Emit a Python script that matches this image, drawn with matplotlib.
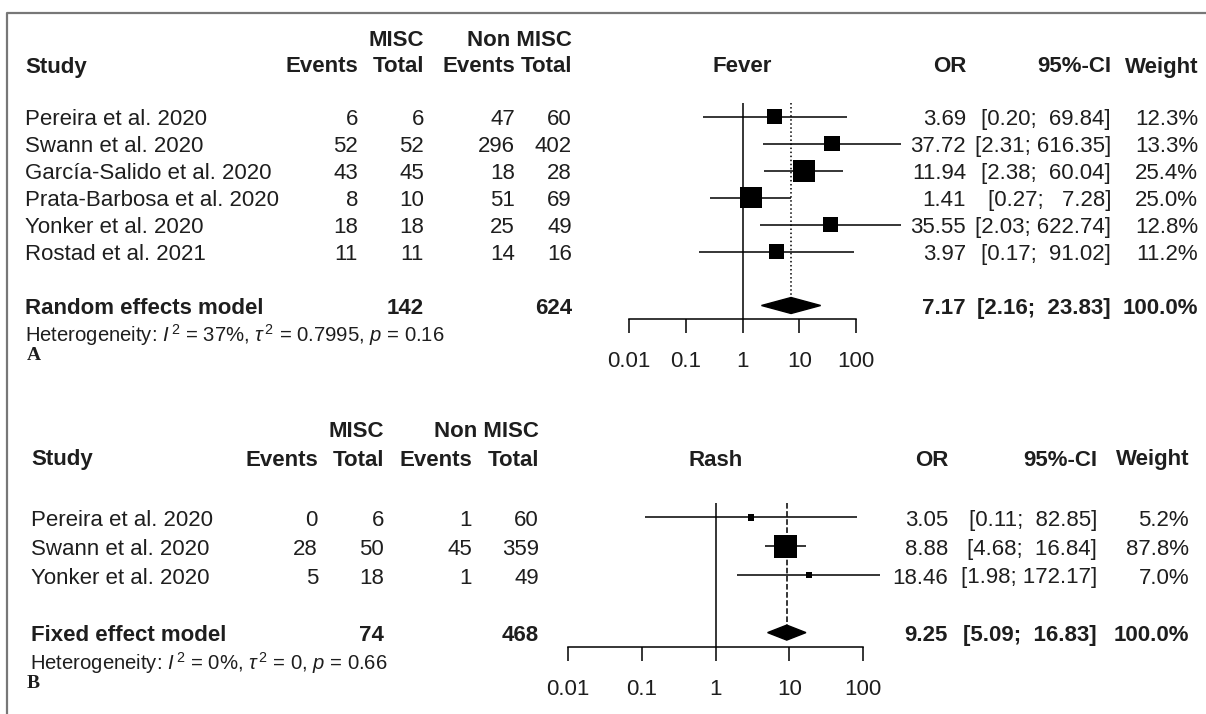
import numpy as np
import matplotlib
matplotlib.use("Agg")
import matplotlib.pyplot as plt
from matplotlib.lines import Line2D

plt.rcParams["font.family"] = ["Liberation Sans", "DejaVu Sans"]
plt.rcParams["mathtext.fontset"] = "custom"
plt.rcParams["mathtext.rm"] = "Liberation Sans"
plt.rcParams["mathtext.it"] = "Liberation Sans:italic"

# ---- data: panel A (fever) ----
fever_studies = ["Pereira et al. 2020", "Swann et al. 2020", "García-Salido et al. 2020",
                 "Prata-Barbosa et al. 2020", "Yonker et al. 2020", "Rostad et al. 2021"]
fever_misc_events = [6, 52, 43, 8, 18, 11]
fever_misc_total = [6, 52, 45, 10, 18, 11]
fever_non_events = [47, 296, 18, 51, 25, 14]
fever_non_total = [60, 402, 28, 69, 49, 16]
fever_or = [3.69, 37.72, 11.94, 1.41, 35.55, 3.97]
fever_lo = [0.20, 2.31, 2.38, 0.27, 2.03, 0.17]
fever_hi = [69.84, 616.35, 60.04, 7.28, 622.74, 91.02]
fever_weight = [12.3, 13.3, 25.4, 25.0, 12.8, 11.2]
fever_pooled = [7.17, 2.16, 23.83]
fever_totals = [142, 624]
fever_het = ["37%", "0.7995", "0.16"]

# ---- data: panel B (rash) ----
rash_studies = ["Pereira et al. 2020", "Swann et al. 2020", "Yonker et al. 2020"]
rash_misc_events = [0, 28, 5]
rash_misc_total = [6, 50, 18]
rash_non_events = [1, 45, 1]
rash_non_total = [60, 359, 49]
rash_or = [3.05, 8.88, 18.46]
rash_lo = [0.11, 4.68, 1.98]
rash_hi = [82.85, 16.84, 172.17]
rash_weight = [5.2, 87.8, 7.0]
rash_pooled = [9.25, 5.09, 16.83]
rash_totals = [74, 468]
rash_het = ["0%", "0", "0.66"]

ticks = [0.01, 0.1, 1, 10, 100]
tick_labels = ["0.01", "0.1", "1", "10", "100"]

W, H = 1206, 714
TXT = "#1e1e1e"
FS = 16

fig = plt.figure(figsize=(W / 100, H / 100), dpi=100)


def put(x, y, s, ha="left", bold=False, size=FS, **kw):
    fig.text(x / W, 1 - y / H, s, ha=ha, va="center", fontsize=size,
             fontweight="bold" if bold else "normal", color=TXT, **kw)


def panel(lay, studies, me, mt, ne, nt, orv, lo, hi, wt, pooled, totals, het,
          title, model_name, letter, pooled_style):
    n = len(studies)
    top, axis_y = lay["top"], lay["axis_y"]
    rowh = (axis_y - top) / (n + 2)
    row_y = [top + rowh * (i + 0.5) + 3 for i in range(n)]
    model_y = top + rowh * (n + 1.5) + 3
    cols = lay["cols"]

    # headers
    put(cols[1], lay["h1"], "MISC", ha="right", bold=True)
    put(cols[3], lay["h1"], "Non MISC", ha="right", bold=True)
    put(lay["study_x"], lay["h2"], "Study", bold=True)
    for c, lab in zip(cols, ["Events", "Total", "Events", "Total"]):
        put(c, lay["h2"], lab, ha="right", bold=True)
    put((lay["x0"] + lay["x1"]) / 2, lay["h2"], title, ha="center", bold=True)
    put(lay["or_r"], lay["h2"], "OR", ha="right", bold=True)
    put(lay["ci_r"], lay["h2"], "95%-CI", ha="right", bold=True)
    put(lay["w_r"], lay["h2"], "Weight", ha="right", bold=True)

    # study rows
    width = max(len(f"{v:.2f}") for v in hi + [pooled[2]])
    for i in range(n):
        y = row_y[i]
        put(lay["study_x"], y, studies[i])
        for c, v in zip(cols, [me[i], mt[i], ne[i], nt[i]]):
            put(c, y, str(v), ha="right")
        put(lay["or_r"], y, f"{orv[i]:.2f}", ha="right")
        put(lay["ci_r"], y, f"[{lo[i]:.2f}; {hi[i]:>{width}.2f}]", ha="right")
        put(lay["w_r"], y, f"{wt[i]:.1f}%", ha="right")

    # pooled row
    put(lay["study_x"], model_y, model_name, bold=True)
    put(cols[1], model_y, str(totals[0]), ha="right", bold=True)
    put(cols[3], model_y, str(totals[1]), ha="right", bold=True)
    put(lay["or_r"], model_y, f"{pooled[0]:.2f}", ha="right", bold=True)
    put(lay["ci_r"], model_y, f"[{pooled[1]:.2f}; {pooled[2]:>{width}.2f}]", ha="right", bold=True)
    put(lay["w_r"], model_y, "100.0%", ha="right", bold=True)

    put(lay["het_x"], lay["het_y"],
        rf"Heterogeneity: $I^{{\,2}}$ = {het[0]}, $\tau^{{\,2}}$ = {het[1]}, $p$ = {het[2]}",
        size=14.6)
    put(27, lay["let_y"], letter, bold=True, size=14, family="Liberation Serif")

    # forest axes
    ax = fig.add_axes([lay["x0"] / W, 1 - axis_y / H,
                       (lay["x1"] - lay["x0"]) / W, (axis_y - top) / H])
    ax.set_xscale("log")
    ax.set_xlim(0.01, 100)
    ax.set_ylim(n + 1.5, -0.5)
    ax.patch.set_alpha(0)
    for s in ["top", "left", "right"]:
        ax.spines[s].set_visible(False)
    ax.spines["bottom"].set_linewidth(1.1)
    ax.set_yticks([])
    ax.set_xticks(ticks)
    ax.set_xticklabels(tick_labels, fontsize=FS, color=TXT)
    ax.minorticks_off()
    ax.tick_params(axis="x", direction="out", length=10, width=1.1, pad=13)

    rows = np.arange(n)
    ax.vlines(1, -0.5, n + 1.5, color="black", lw=1.1, clip_on=False)
    ax.vlines(pooled[0], -0.5, n + 1.2, color="black", lw=1.1,
              linestyles=pooled_style, clip_on=False)
    ax.hlines(rows, lo, hi, color="black", lw=1.1, clip_on=False)
    wt_arr = np.array(wt)
    side = lay["max_side"] * np.sqrt(wt_arr / wt_arr.max())
    side = np.maximum(side, 6.5) * 0.72
    ax.scatter(orv, rows, marker="s", s=side ** 2, color="black",
               edgecolors="none", zorder=3, clip_on=False)
    h = lay["dh"] / rowh
    ax.fill([pooled[1], pooled[0], pooled[2], pooled[0]],
            [n + 1, n + 1 - h, n + 1, n + 1 + h], color="black", zorder=3)


layout_a = dict(study_x=25, cols=[358, 424, 515, 572], h1=40, h2=67,
                x0=629, x1=856, top=103, axis_y=319,
                or_r=966, ci_r=1111, w_r=1198, het_x=25, het_y=335, let_y=356,
                max_side=22, dh=8)
layout_b = dict(study_x=31, cols=[318, 384, 472, 539], h1=432, h2=460,
                x0=568, x1=863, top=503, axis_y=647,
                or_r=948, ci_r=1097, w_r=1189, het_x=30, het_y=663, let_y=684,
                max_side=23, dh=7.5)

panel(layout_a, fever_studies, fever_misc_events, fever_misc_total, fever_non_events,
      fever_non_total, fever_or, fever_lo, fever_hi, fever_weight, fever_pooled,
      fever_totals, fever_het, "Fever", "Random effects model", "A", ":")
panel(layout_b, rash_studies, rash_misc_events, rash_misc_total, rash_non_events,
      rash_non_total, rash_or, rash_lo, rash_hi, rash_weight, rash_pooled,
      rash_totals, rash_het, "Rash", "Fixed effect model", "B", "--")

# frame lines at top and left
fig.add_artist(Line2D([7 / W, 7 / W, 1], [0, 1 - 13 / H, 1 - 13 / H],
                      color="#777777", lw=1.6))

fig.savefig("out.png", dpi=100)
